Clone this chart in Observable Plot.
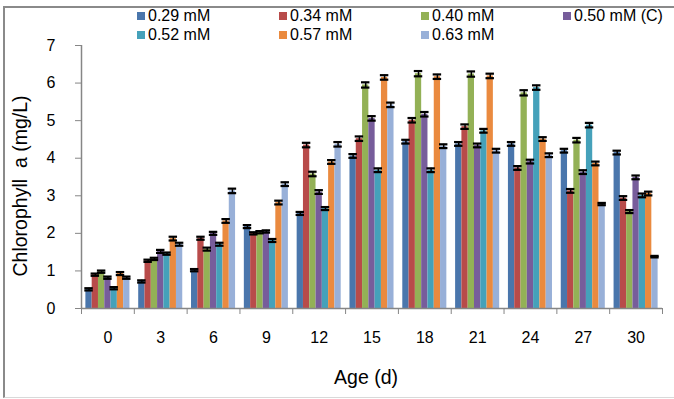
<!DOCTYPE html>
<html><head><meta charset="utf-8">
<script src="https://cdn.jsdelivr.net/npm/d3@7"></script>
<script src="https://cdn.jsdelivr.net/npm/@observablehq/plot@0.6"></script>
<style>
html,body{margin:0;padding:0;background:#fff;overflow:hidden;}
#wrap{position:relative;width:674px;height:399px;overflow:hidden;font-family:"Liberation Sans",Arial,sans-serif;}
#frame{position:absolute;left:3px;top:6px;width:720px;height:389px;border-left:2px solid #8a8a8a;border-top:2px solid #8a8a8a;border-bottom:1px solid #d9d9d9;}
#chart{position:absolute;left:0;top:0;}
#legend{position:absolute;left:0;top:0;width:674px;height:44px;}
.li{position:absolute;display:flex;align-items:center;font-size:16px;color:#000;white-space:nowrap;height:19px;}
.sw{width:8px;height:8px;margin-right:3px;}
</style></head><body>
<div id="wrap"><div id="frame"></div><div id="chart"></div><div id="legend"></div></div>
<script>
const ages = [0, 3, 6, 9, 12, 15, 18, 21, 24, 27, 30];
const series = ["0.29 mM", "0.34 mM", "0.40 mM", "0.50 mM (C)", "0.52 mM", "0.57 mM", "0.63 mM"];
const colors = ["#4A76AC", "#B84B4A", "#93B156", "#775D9B", "#45A1BA", "#EA8A3F", "#98B0D8"];
const yTicks = [0, 1, 2, 3, 4, 5, 6, 7];
const yLabel = "Chlorophyll  a (mg/L)";
const xLabel = "Age (d)";

// Chlorophyll a (mg/L) per series, across ages
const s029 = [0.51, 0.72, 1.02, 2.18, 2.53, 4.06, 4.44, 4.38, 4.38, 4.20, 4.15];
const s034 = [0.90, 1.27, 1.87, 2.00, 4.35, 4.52, 5.01, 4.84, 3.74, 3.13, 2.94];
const s040 = [0.98, 1.32, 1.58, 2.03, 3.58, 5.95, 6.25, 6.24, 5.74, 4.48, 2.58];
const s050 = [0.82, 1.52, 2.00, 2.05, 3.10, 5.06, 5.17, 4.34, 3.91, 3.63, 3.49];
const s052 = [0.54, 1.46, 1.71, 1.81, 2.66, 3.68, 3.68, 4.73, 5.88, 4.88, 3.01];
const s057 = [0.93, 1.86, 2.33, 2.82, 3.90, 6.15, 6.17, 6.19, 4.51, 3.86, 3.06];
const s063 = [0.82, 1.71, 3.13, 3.31, 4.37, 5.42, 4.32, 4.20, 4.08, 2.78, 1.38];

// error (± SD) per series, across ages
const e029 = [0.03, 0.03, 0.03, 0.04, 0.04, 0.05, 0.05, 0.05, 0.05, 0.05, 0.05];
const e034 = [0.03, 0.03, 0.04, 0.03, 0.06, 0.06, 0.06, 0.06, 0.05, 0.05, 0.05];
const e040 = [0.03, 0.03, 0.04, 0.03, 0.06, 0.07, 0.07, 0.07, 0.07, 0.06, 0.04];
const e050 = [0.03, 0.04, 0.04, 0.03, 0.05, 0.06, 0.06, 0.05, 0.05, 0.05, 0.05];
const e052 = [0.03, 0.03, 0.04, 0.04, 0.04, 0.05, 0.05, 0.05, 0.06, 0.06, 0.05];
const e057 = [0.04, 0.05, 0.05, 0.05, 0.05, 0.06, 0.06, 0.06, 0.05, 0.05, 0.05];
const e063 = [0.03, 0.04, 0.06, 0.05, 0.06, 0.06, 0.05, 0.05, 0.05, 0.03, 0.02];

const values = [s029, s034, s040, s050, s052, s057, s063];
const errors = [e029, e034, e040, e050, e052, e057, e063];

const pad = 0.083, bw = (1 - 2 * pad) / series.length, capHalf = 0.08;
const rows = [];
series.forEach((s, j) => ages.forEach((a, i) => {
  const x1 = i + pad + j * bw;
  rows.push({series: s, age: a, value: values[j][i], err: errors[j][i],
    x1, x2: x1 + bw, xc: x1 + bw / 2});
}));

const grey = "#868686";
const chart = Plot.plot({
  width: 674, height: 399,
  marginLeft: 81, marginRight: 12, marginTop: 45, marginBottom: 91,
  style: {fontFamily: "'Liberation Sans', Arial, sans-serif", background: "transparent", overflow: "visible"},
  x: {type: "linear", domain: [0, ages.length]},
  y: {domain: [0, 7]},
  color: {domain: series, range: colors},
  marks: [
    Plot.rectY(rows, {x1: "x1", x2: "x2", y: "value", fill: "series"}),
    Plot.ruleX(rows, {x: "xc", y1: d => d.value - d.err, y2: d => d.value + d.err, stroke: "black", strokeWidth: 1.5}),
    Plot.ruleY(rows, {y: d => d.value + d.err, x1: d => d.xc - capHalf, x2: d => d.xc + capHalf, stroke: "black", strokeWidth: 2.2}),
    Plot.ruleY(rows, {y: d => d.value - d.err, x1: d => d.xc - capHalf, x2: d => d.xc + capHalf, stroke: "black", strokeWidth: 2.2}),
    Plot.ruleX([0], {stroke: grey, strokeWidth: 1.5}),
    Plot.ruleY([0], {stroke: grey, strokeWidth: 1.5}),
    Plot.axisY({ticks: yTicks, tickSize: 6, tickPadding: 20, fontSize: 16, stroke: grey, fill: "black", tickFormat: d => String(d), label: null}),
    Plot.axisX({ticks: d3.range(ages.length + 1), tickSize: 6, tickFormat: () => "", stroke: grey, label: null}),
    Plot.axisX({ticks: ages.map((a, i) => i + 0.5), tickSize: 0, tickPadding: 23, fontSize: 16, fill: "black",
      tickFormat: d => String(ages[Math.round(d - 0.5)]), label: null}),
    Plot.text([yLabel], {text: d => d, frameAnchor: "left", textAnchor: "middle", rotate: -90, dx: -61, dy: 9, fontSize: 19.5, fill: "black"}),
    Plot.text([xLabel], {text: d => d, frameAnchor: "bottom", textAnchor: "middle", dy: 75, dx: -6, fontSize: 19.5, fill: "black"})
  ]
});
document.getElementById("chart").appendChild(chart);

const legend = document.getElementById("legend");
series.forEach((s, j) => {
  const col = j % 4, row = Math.floor(j / 4);
  const item = document.createElement("div");
  item.className = "li";
  item.style.left = (137 + col * 142) + "px";
  item.style.top = (6 + row * 19) + "px";
  const sw = document.createElement("span");
  sw.className = "sw";
  sw.style.background = colors[j];
  item.appendChild(sw);
  item.appendChild(document.createTextNode(s));
  legend.appendChild(item);
});
</script>
</body></html>
